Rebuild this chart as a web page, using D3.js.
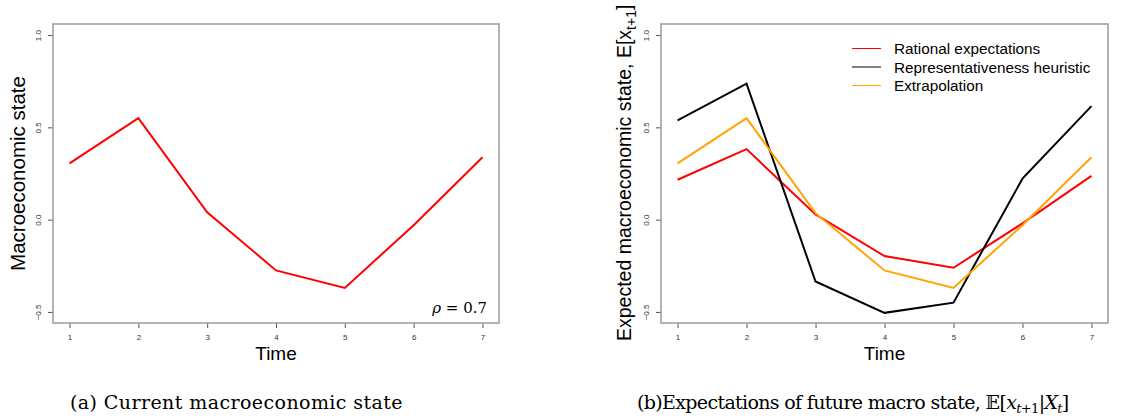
<!DOCTYPE html>
<html>
<head>
    <meta charset="UTF-8">
    <style>
        body { margin: 0; background: #fff; }
        svg { display: block; }
        .box { fill: none; stroke: #9a9a9a; stroke-width: 1.5px; }
        .tick line { stroke: #555; }
        .tick text { font-family: "Liberation Sans", Arial, sans-serif; font-size: 8px; fill: #333; }
        .domain { display: none; }
        .axis-title { font-family: "Liberation Sans", Arial, sans-serif; font-size: 19px; fill: #000; }
        .ylab { font-size: 20.5px; }
        .ylab.right { font-size: 19.5px; }
        .legend text { font-family: "Liberation Sans", Arial, sans-serif; font-size: 15.3px; fill: #000; }
        .caption { font-family: "DejaVu Serif", serif; font-size: 19px; fill: #000; }
        .series { fill: none; stroke-width: 2px; }
    </style>
</head>
<body>
<script src="https://cdn.jsdelivr.net/npm/d3@7"></script>
<script>
// chart values
var times = [1, 2, 3, 4, 5, 6, 7];
var currentState = [0.305, 0.550, 0.040, -0.275, -0.370, -0.030, 0.338];
var rationalExp = [0.216, 0.382, 0.028, -0.197, -0.261, -0.020, 0.237];
var representativeExp = [0.538, 0.737, -0.335, -0.505, -0.450, 0.222, 0.615];
var extrapolationExp = [0.305, 0.550, 0.035, -0.275, -0.370, -0.030, 0.338];
var yTicks = [-0.5, 0.0, 0.5, 1.0];
var legendLabels = ["Rational expectations", "Representativeness heuristic", "Extrapolation"];
var legendColors = ["#ff0000", "#000000", "#ffa500"];

var width = 1136, height = 416;
var svg = d3.select("body").append("svg").attr("width", width).attr("height", height);

// R default: 4% padding around x and y ranges
function makePanel(left, right, opts) {
    var top = 24, bottom = 323;
    var x = d3.scaleLinear().domain([0.76, 7.24]).range([left, right]);
    var y = d3.scaleLinear().domain([-0.56, 1.06]).range([bottom, top]);
    var g = svg.append("g");

    g.append("g").attr("transform", "translate(0," + bottom + ")")
        .call(d3.axisBottom(x).tickValues(times).tickSize(5).tickPadding(6).tickFormat(d3.format("d")));

    var ya = g.append("g").attr("transform", "translate(" + left + ",0)")
        .call(d3.axisLeft(y).tickValues(yTicks).tickSize(5).tickFormat(d3.format(".1f")));
    ya.selectAll(".tick text")
        .attr("x", 0).attr("dy", 0)
        .attr("text-anchor", "middle")
        .attr("transform", "translate(-12,0) rotate(-90)");

    g.append("rect").attr("class", "box")
        .attr("x", left).attr("y", top).attr("width", right - left).attr("height", bottom - top);

    g.append("text").attr("class", "axis-title")
        .attr("x", (left + right) / 2).attr("y", 360)
        .attr("text-anchor", "middle").text("Time");

    var line = d3.line().x(function(d, i) { return x(times[i]); }).y(function(d) { return y(d); });
    opts.series.forEach(function(s) {
        g.append("path").attr("class", "series").attr("d", line(s.values)).attr("stroke", s.color);
    });
    return { g: g, x: x, y: y, top: top, bottom: bottom };
}

// stretch a caption to the width it has in the reference
function fitWidth(sel, target) {
    var node = sel.node();
    var len = node.getComputedTextLength(), n = node.getNumberOfChars();
    sel.attr("letter-spacing", ((target - len) / n) + "px");
}

// panel (a)
var pa = makePanel(53, 499, { series: [{ values: currentState, color: "#ff0000" }] });
pa.g.append("text").attr("class", "axis-title ylab")
    .attr("transform", "translate(25," + ((pa.top + pa.bottom) / 2) + ") rotate(-90)")
    .attr("text-anchor", "middle").text("Macroeconomic state");
var rho = pa.g.append("text").attr("x", 487).attr("y", 313)
    .attr("text-anchor", "end")
    .style("font-family", "'DejaVu Serif', serif").style("font-size", "15px");
rho.append("tspan").style("font-style", "italic").text("ρ");
rho.append("tspan").text(" = 0.7");

// panel (b)
var pb = makePanel(661, 1108, { series: [
    { values: rationalExp, color: legendColors[0] },
    { values: representativeExp, color: legendColors[1] },
    { values: extrapolationExp, color: legendColors[2] }
]});
var yl = pb.g.append("text").attr("class", "axis-title ylab right")
    .attr("transform", "translate(631,341) rotate(-90)")
    .attr("text-anchor", "start");
yl.append("tspan").text("Expected macroeconomic state, E[x");
yl.append("tspan").attr("dy", 5).style("font-size", "14px").text("t+1");
yl.append("tspan").attr("dy", -5).text("]");

var lg = pb.g.append("g").attr("class", "legend");
legendLabels.forEach(function(lbl, i) {
    var yy = 48.5 + i * 18.5;
    lg.append("line").attr("x1", 852).attr("x2", 881).attr("y1", yy).attr("y2", yy)
        .attr("stroke", legendColors[i]).attr("stroke-width", 1);
    lg.append("text").attr("x", 894).attr("y", yy + 5.5).text(lbl);
});

// captions
var ca = svg.append("text").attr("class", "caption").attr("x", 70).attr("y", 409).text("(a) Current macroeconomic state");
fitWidth(ca, 333);
var cb = svg.append("text").attr("class", "caption").attr("x", 637).attr("y", 409);
cb.append("tspan").text("(b)Expectations of future macro state, 𝔼[");
cb.append("tspan").style("font-style", "italic").text("x");
cb.append("tspan").attr("dy", 4).style("font-size", "13px").style("font-style", "italic").text("t");
cb.append("tspan").style("font-size", "13px").text("+1");
cb.append("tspan").attr("dy", -4).text("|");
cb.append("tspan").style("font-style", "italic").text("X");
cb.append("tspan").attr("dy", 4).style("font-size", "13px").style("font-style", "italic").text("t");
cb.append("tspan").attr("dy", -4).text("]");
fitWidth(cb, 431);
</script>
</body>
</html>
